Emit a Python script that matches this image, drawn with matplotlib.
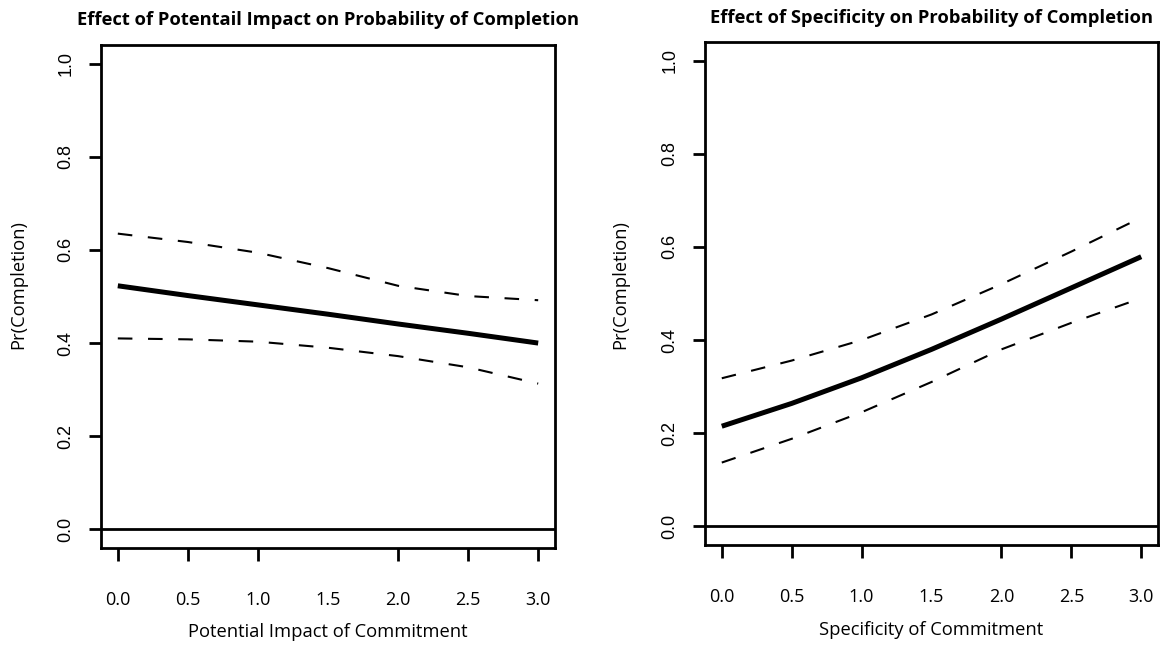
import matplotlib
matplotlib.use("Agg")
import matplotlib.pyplot as plt

# values
x_vals = [0.0, 0.5, 1.0, 1.5, 2.0, 2.5, 3.0]

impact_fit = [0.523, 0.502, 0.482, 0.462, 0.441, 0.421, 0.400]
impact_upper = [0.635, 0.617, 0.594, 0.561, 0.523, 0.501, 0.492]
impact_lower = [0.410, 0.408, 0.403, 0.390, 0.372, 0.348, 0.313]

spec_fit = [0.215, 0.264, 0.319, 0.380, 0.445, 0.512, 0.579]
spec_upper = [0.318, 0.356, 0.400, 0.455, 0.520, 0.590, 0.663]
spec_lower = [0.137, 0.188, 0.245, 0.310, 0.380, 0.437, 0.490]

x_ticks = [0.0, 0.5, 1.0, 1.5, 2.0, 2.5, 3.0]
y_ticks = [0.0, 0.2, 0.4, 0.6, 0.8, 1.0]

titles = ["Effect of Potentail Impact on Probability of Completion",
          "Effect of Specificity on Probability of Completion"]
xlabels = ["Potential Impact of Commitment", "Specificity of Commitment"]
ylabel = "Pr(Completion)"

W, H = 1162, 645
fig = plt.figure(figsize=(W / 100, H / 100), dpi=100)

# axes boxes in pixels: left, top, right, bottom
boxes = [(101, 45, 555, 548), (705, 42, 1158, 545)]
ylab_x = [18, 620]
panels = [(impact_fit, impact_upper, impact_lower),
          (spec_fit, spec_upper, spec_lower)]

label_font = "Open Sans"

for i, (l, t, r, b) in enumerate(boxes):
    ax = fig.add_axes([l / W, 1 - b / H, (r - l) / W, (b - t) / H])
    fit, upper, lower = panels[i]
    ax.plot(x_vals, fit, color="black", lw=3.6, solid_capstyle="butt")
    ax.plot(x_vals, upper, color="black", lw=1.5, linestyle=(0, (7, 7.5)))
    ax.plot(x_vals, lower, color="black", lw=1.5, linestyle=(0, (7, 7.5)))
    ax.axhline(0, color="black", lw=2)

    ax.set_xlim(-0.12, 3.12)
    ax.set_ylim(-0.04, 1.04)
    for s in ax.spines.values():
        s.set_linewidth(2)

    ax.set_xticks(x_ticks)
    ax.set_xticklabels(["%.1f" % v for v in x_ticks], fontfamily=label_font, fontsize=13)
    ax.set_yticks(y_ticks)
    ax.set_yticklabels(["%.1f" % v for v in y_ticks], rotation=90, va="center",
                       fontfamily="Liberation Sans", fontsize=13)
    ax.tick_params(axis="x", length=9, width=2, pad=22)
    ax.tick_params(axis="y", length=9, width=2, pad=10)
    # no tick mark at 1.5 in the original
    ax.xaxis.get_major_ticks()[3].tick1line.set_visible(False)

    cx = (l + r) / 2
    fig.text(cx / W, 1 - (20 - 2 * i) / H, titles[i], ha="center", va="center",
             fontfamily=label_font, fontweight="bold", fontsize=13.2)
    fig.text(cx / W, 1 - (632 - 2 * i) / H, xlabels[i], ha="center", va="center",
             fontfamily=label_font, fontsize=13.2)
    fig.text(ylab_x[i] / W, 1 - 285 / H, ylabel, ha="center", va="center",
             rotation=90, fontfamily=label_font, fontsize=13.2)

fig.savefig("out.png", dpi=100)
